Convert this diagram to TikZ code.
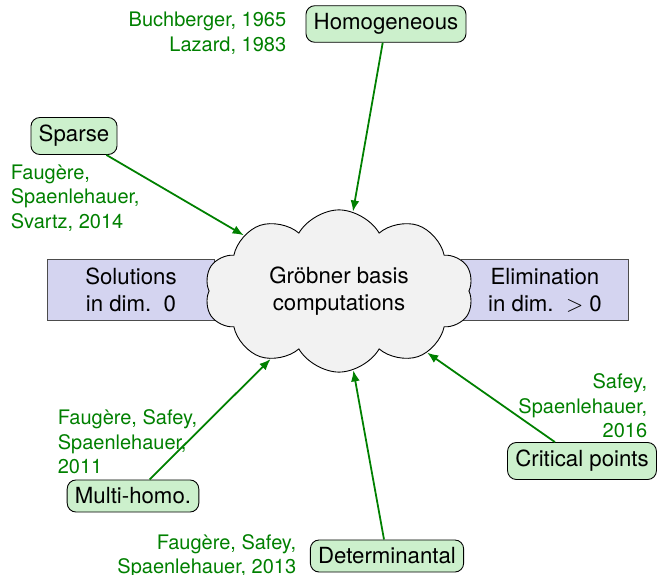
\documentclass[tikz,border=0pt]{standalone}
\usepackage{fontspec}
\setmainfont{TeX Gyre Heros}
\usepackage{tikz}
\usetikzlibrary{shapes.symbols, arrows.meta, positioning}
\definecolor{citegreen}{RGB}{0,128,0}
\definecolor{topicgreen}{RGB}{204,240,204}
\definecolor{dimblue}{RGB}{212,212,240}

\begin{document}
\begin{tikzpicture}[x=0.45pt, y=-0.45pt,
    topic/.style={draw, rounded corners=4pt, fill=topicgreen, inner sep=3.5pt},
    cite/.style={text=citegreen, font=\small},
    dimbox/.style={draw=black!70, fill=dimblue, minimum width=75pt,
                   minimum height=27.5pt, align=center},
    feeds/.style={-{Latex[length=5pt,width=4pt]}, draw=citegreen, thick}
]
    \useasboundingbox (0,0) rectangle (658,575);

    % dimension boxes behind the cloud
    \node[dimbox] (zerodim) at (131,290) {Solutions\\in dim.\ \ 0};
    \node[dimbox] (posdim) at (545,290) {Elimination\\in dim.\ \ $>$ 0};
    \node[cloud, draw, fill=black!5, cloud puffs=10, cloud puff arc=120,
          cloud ignores aspect, minimum width=121pt, minimum height=73pt,
          align=center] (gb) at (339,291)
          {Gröbner basis\\computations};

    % variants
    \node[topic] (homog) at (386,24) {Homogeneous};
    \node[topic] (sparse) at (74,136) {Sparse};
    \node[topic] (multi) at (133,496) {Multi-homo.};
    \node[topic] (determ) at (387,556) {Determinantal};
    \node[topic] (crit) at (582,461) {Critical points};

    % references
    \node[cite, align=right, anchor=east] (homogref) at (294,33) {Buchberger, 1965\\Lazard, 1983};
    \node[cite, align=left, anchor=west] (sparseref) at (3,198) {Faugère,\\Spaenlehauer,\\Svartz, 2014};
    \node[cite, align=left, anchor=west] (multiref) at (50,442) {Faugère, Safey,\\Spaenlehauer,\\2011};
    \node[cite, align=right, anchor=east] (determref) at (304,556) {Faugère, Safey,\\Spaenlehauer, 2013};
    \node[cite, align=right, anchor=east] (critref) at (655,406) {Safey,\\Spaenlehauer,\\2016};

    \draw[feeds] (homog) -- (gb);
    \draw[feeds] (sparse) -- (gb);
    \draw[feeds] (multi) -- (gb);
    \draw[feeds] (determ) -- (gb);
    \draw[feeds] (crit) -- (gb);
\end{tikzpicture}
\end{document}
